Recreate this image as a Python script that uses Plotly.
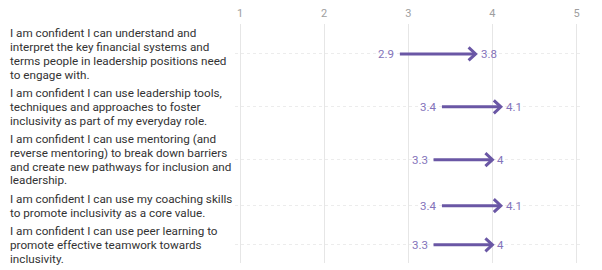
import plotly.graph_objects as go

categories = [
    "I am confident I can understand and<br>interpret the key financial systems and<br>terms people in leadership positions need<br>to engage with.",
    "I am confident I can use leadership tools,<br>techniques and approaches to foster<br>inclusivity as part of my everyday role.",
    "I am confident I can use mentoring (and<br>reverse mentoring) to break down barriers<br>and create new pathways for inclusion and<br>leadership.",
    "I am confident I can use my coaching skills<br>to promote inclusivity as a core value.",
    "I am confident I can use peer learning to<br>promote effective teamwork towards<br>inclusivity.",
]
before = [2.9, 3.4, 3.3, 3.4, 3.3]
after = [3.8, 4.1, 4.0, 4.1, 4.0]
x_ticks = [1, 2, 3, 4, 5]

# layout constants (pixels)
W, H = 602, 270
ML, MR, MT, MB = 235, 20, 24, 7
LINE_PX = 13.8
GAP_PX = 4.6
TOP_PAD = -1.9
X_RANGE = [0.94, 5.065]
LINE_COLOR = "#6a57a5"
TEXT_COLOR = "#8373ba"
LABEL_FONT = 11.7

plot_h = H - MT - MB
plot_w = W - ML - MR
px_per_x = plot_w / (X_RANGE[1] - X_RANGE[0])

# row centers derived from label line counts
centers = []
cur = TOP_PAD
for c in categories:
    n = c.count("<br>") + 1
    h = n * LINE_PX + GAP_PX
    centers.append(cur + h / 2)
    cur += h

fig = go.Figure()

# shafts
xs, ys = [], []
for b, a, y in zip(before, after, centers):
    xs += [b, a, None]
    ys += [y, y, None]
fig.add_trace(go.Scatter(x=xs, y=ys, mode="lines",
                         line=dict(color=LINE_COLOR, width=3),
                         hoverinfo="skip", showlegend=False))

# chevron heads
dx = 7 / px_per_x
dy = 6.5
xs, ys = [], []
for a, y in zip(after, centers):
    xs += [a - dx, a, a - dx, None]
    ys += [y - dy, y, y + dy, None]
fig.add_trace(go.Scatter(x=xs, y=ys, mode="lines",
                         line=dict(color=LINE_COLOR, width=3),
                         hoverinfo="skip", showlegend=False))

annotations = []
for c, y in zip(categories, centers):
    lines = c.split("<br>")
    n = len(lines)
    for i, ln in enumerate(lines):
        annotations.append(dict(
            text=ln, xref="paper", x=(8 - ML) / plot_w, xanchor="left", align="left",
            yref="y", y=y + (i - (n - 1) / 2) * LINE_PX, yanchor="middle",
            showarrow=False,
            font=dict(family="Roboto", size=LABEL_FONT, color="#333333")))
for b, a, y in zip(before, after, centers):
    annotations.append(dict(
        text=f"{b:g}", x=b, y=y, xref="x", yref="y", xanchor="right",
        xshift=-4, showarrow=False,
        font=dict(family="Roboto", size=11.5, color=TEXT_COLOR)))
    annotations.append(dict(
        text=f"{a:g}", x=a, y=y, xref="x", yref="y", xanchor="left",
        xshift=3, showarrow=False,
        font=dict(family="Roboto", size=11.5, color=TEXT_COLOR)))

fig.update_layout(
    width=W, height=H,
    margin=dict(l=ML, r=MR, t=MT, b=MB, pad=0),
    paper_bgcolor="white", plot_bgcolor="white",
    showlegend=False,
    annotations=annotations,
    xaxis=dict(range=X_RANGE, side="top", tickvals=x_ticks,
               ticktext=[str(t) for t in x_ticks],
               showgrid=True, gridcolor="#e6e6e6", gridwidth=1,
               zeroline=False, showline=False, ticks="",
               ticklabelstandoff=4,
               tickfont=dict(family="Roboto", size=11, color="#9e9e9e"),
               fixedrange=True),
    yaxis=dict(range=[TOP_PAD + plot_h, TOP_PAD], tickvals=centers,
               showticklabels=False, showgrid=True, gridcolor="#ececec",
               griddash="dot", gridwidth=1, zeroline=False,
               showline=False, ticks="", fixedrange=True),
)

fig.write_html("out.html")
